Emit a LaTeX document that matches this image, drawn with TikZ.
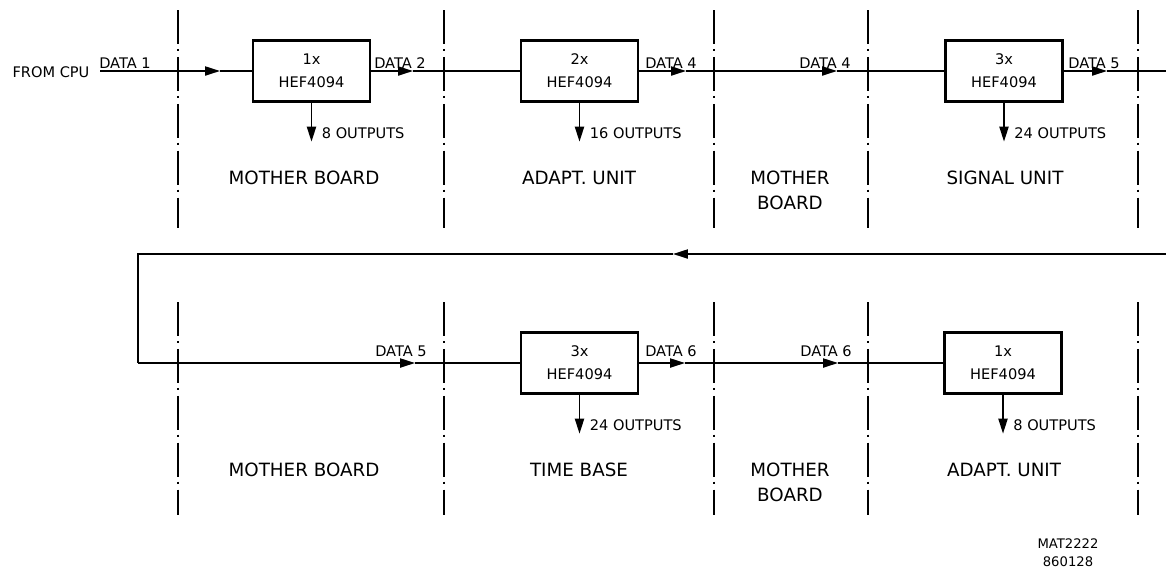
\documentclass[tikz,border=0pt]{standalone}
\usepackage{fontspec}
\newfontfamily\drawfont{DejaVu Sans}
\usetikzlibrary{arrows.meta}

\begin{document}
\begin{tikzpicture}[x=0.02cm,y=-0.02cm]
    \useasboundingbox (0,0) rectangle (1166,576);

    \tikzset{
        wire/.style={line width=0.9pt},
        flow/.style={wire,-{Triangle[length=8.5pt,width=5.2pt]}},
        chip/.style={draw,line width=1.3pt,minimum width=2.34cm,minimum height=1.22cm,
            align=center,inner sep=0pt,font=\drawfont\fontsize{8.3}{13}\selectfont},
        tag/.style={font=\drawfont\fontsize{8.3}{10}\selectfont,inner sep=0pt},
        area/.style={font=\drawfont\fontsize{10.4}{14.2}\selectfont,align=center,inner sep=0pt},
        border/.style={line width=1.2pt,dash pattern=on 19.3pt off 2.84pt on 1.14pt off 3.4pt},
    }

    % unit borders
    \foreach \x in {178,444,714,868,1138} {
        \draw[border] (\x,10) -- (\x,228);
        \draw[border] (\x,302) -- (\x,515);
    }

    % shift registers
    \node[chip] (sr1) at (311.5,71) {1x\\HEF4094};
    \node[chip] (sr2) at (579.5,71) {2x\\HEF4094};
    \node[chip] (sr3) at (1004,71) {3x\\HEF4094};
    \node[chip] (sr4) at (579.5,363) {3x\\HEF4094};
    \node[chip] (sr5) at (1003,363) {1x\\HEF4094};

    \node[tag] (cpu) at (51,72) {FROM CPU};

    \coordinate (in) at (100,71);
    \coordinate (a1) at (220,71);
    \coordinate (a2) at (413,71);
    \coordinate (a3) at (686,71);
    \coordinate (a4) at (837,71);
    \coordinate (a5) at (1107,71);
    \coordinate (outR) at (1166,71);
    \coordinate (inR) at (1166,254);
    \coordinate (a6) at (673,254);
    \coordinate (bendA) at (138,254);
    \coordinate (bendB) at (138,363);
    \coordinate (a7) at (415,363);
    \coordinate (a8) at (685,363);
    \coordinate (a9) at (838,363);

    % serial data chain
    \foreach \p/\q in {in/a1,sr1/a2,sr2/a3,a3/a4,sr3/a5,inR/a6,bendB/a7,sr4/a8,a8/a9}
        \draw[flow] (\p) -- (\q);
    \draw[wire] (a1) -- (sr1);
    \draw[wire] (a2) -- (sr2);
    \draw[wire] (a4) -- (sr3);
    \draw[wire] (a5) -- (outR);
    \draw[wire] (a6) -- (bendA) -- (bendB);
    \draw[wire] (a7) -- (sr4);
    \draw[wire] (a9) -- (sr5);

    \foreach \x/\y/\txt [count=\k] in {125/63/DATA 1,400/63/DATA 2,671/63/DATA 4,825/63/DATA 4,
        1094/63/DATA 5,401/351/DATA 5,671/351/DATA 6,826/351/DATA 6}
        \node[tag] (d\k) at (\x,\y) {\txt};

    % parallel outputs
    \foreach \n/\y/\txt [count=\k] in {sr1/133/8,sr2/133/16,sr3/133/24,sr4/425/24,sr5/425/8} {
        \coordinate (q\k) at ([yshift=-0.78cm]\n.south);
        \draw[flow] (\n.south) -- (q\k);
        \node[tag,anchor=west] (o\k) at ([xshift=0.2cm]\n.south |- 0,\y) {\txt\ OUTPUTS};
    }

    % unit names
    \node[area] (u1) at (304,178) {MOTHER BOARD};
    \node[area] (u2) at (579,178) {ADAPT. UNIT};
    \node[area] (u3) at (790,190.5) {MOTHER\\BOARD};
    \node[area] (u4) at (1005,178) {SIGNAL UNIT};
    \node[area] (u5) at (304,470) {MOTHER BOARD};
    \node[area] (u6) at (579,470) {TIME BASE};
    \node[area] (u7) at (790,482.5) {MOTHER\\BOARD};
    \node[area] (u8) at (1004,470) {ADAPT. UNIT};

    \node[tag,align=center,font=\drawfont\fontsize{7.5}{10.2}\selectfont] (ref) at (1068,553) {MAT2222\\860128};
\end{tikzpicture}
\end{document}
